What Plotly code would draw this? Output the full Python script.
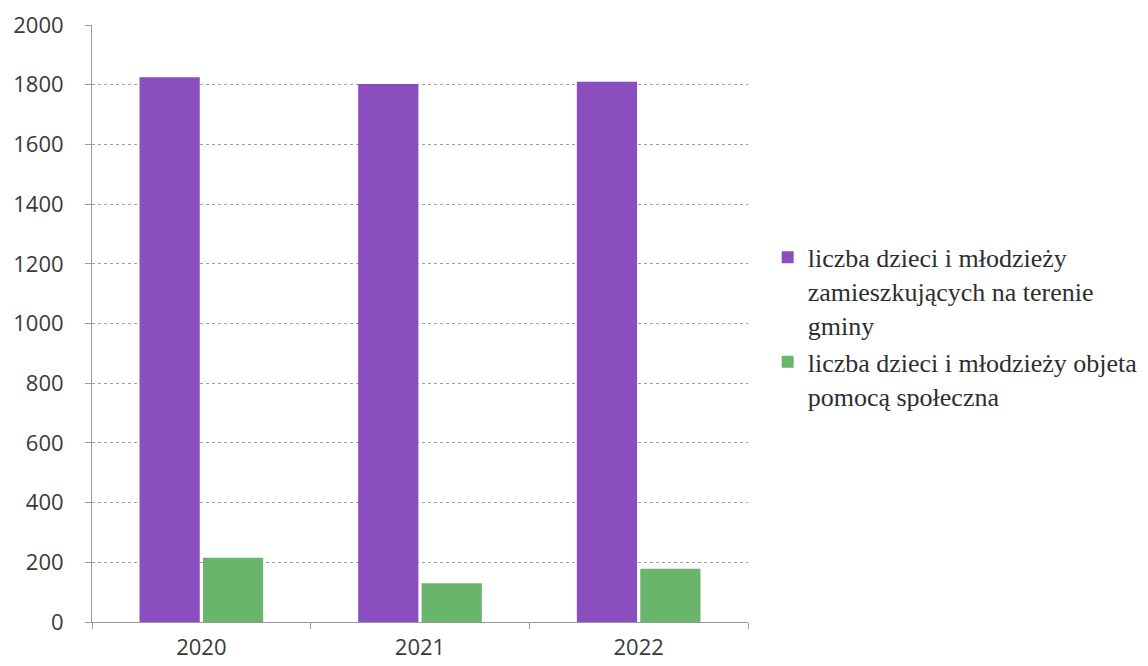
import plotly.graph_objects as go

years = ["2020", "2021", "2022"]
mieszkancy = [1825, 1802, 1810]
pomoc = [215, 130, 178]
names = ["liczba dzieci i młodzieży<br>zamieszkujących na terenie<br>gminy",
         "liczba dzieci i młodzieży objeta<br>pomocą społeczna"]
yticks = [0, 200, 400, 600, 800, 1000, 1200, 1400, 1600, 1800, 2000]

fig = go.Figure()
fig.add_trace(go.Bar(x=years, y=mieszkancy, name=names[0], marker=dict(color="#8A4EBE", line=dict(width=0))))
fig.add_trace(go.Bar(x=years, y=pomoc, name=names[1], marker=dict(color="#6AB56C", line=dict(width=0))))

fig.update_layout(
    width=1140, height=658,
    margin=dict(l=84, r=400, t=17, b=44, autoexpand=False),
    paper_bgcolor="white", plot_bgcolor="white",
    barmode="group", bargap=0.42, bargroupgap=0.05,
    font=dict(family="Open Sans, DejaVu Sans, sans-serif", size=22, color="#3a3a3a"),
    legend=dict(x=1.03, y=0.65, xanchor="left", yanchor="top", valign="top",
                font=dict(family="Liberation Serif, Times New Roman, serif", size=26, color="#2e2e2e"),
                tracegroupgap=6, itemwidth=30),
    showlegend=True,
)
fig.update_yaxes(range=[0, 2000], tickvals=yticks, showgrid=True, gridcolor="#a0a0a0", griddash="dot",
                 gridwidth=1, showline=True, linecolor="#999999", ticks="outside", ticklen=6,
                 tickcolor="#999999", zeroline=False, ticklabelstandoff=17, automargin=False,
                 ticklabeloverflow="allow")
fig.update_xaxes(showline=True, linecolor="#999999", ticks="outside", tickson="boundaries",
                 ticklen=6, tickcolor="#999999", showgrid=False, ticklabelstandoff=6, automargin=False,
                 ticklabeloverflow="allow")
fig.write_html("out.html")
